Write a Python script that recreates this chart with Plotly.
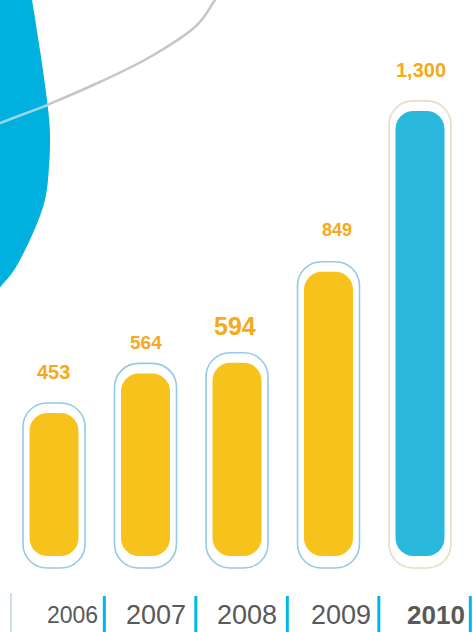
import plotly.graph_objects as go

# ---------------- data ----------------
years = ["2006", "2007", "2008", "2009", "2010"]
values = [453, 564, 594, 849, 1300]
value_labels = ["453", "564", "594", "849", "1,300"]

# ---------------- style ----------------
W, H = 473, 632
gold = "#f8c21d"
sky = "#2ab8dc"
fill_colors = [gold, gold, gold, gold, sky]
outline_colors = ["#95c9e6", "#95c9e6", "#95c9e6", "#95c9e6", "#e8dcc4"]
label_color = "#f7a919"
label_sizes = [20, 19, 25, 18, 20]
label_yshift = [41, 31, 37, 42, 41]
label_xshift = [-1, 0, -2, 8, 1]
year_xshift = [18, 10, 10, 12, 16]
year_fonts = ["Liberation Sans Narrow, Liberation Sans, Arial, sans-serif",
              "Liberation Sans, Arial, sans-serif", "Liberation Sans, Arial, sans-serif",
              "Liberation Sans, Arial, sans-serif", "Liberation Sans, Arial, sans-serif"]
year_bold = [False, False, False, False, True]
year_sizes = [23, 27, 27, 27, 26]

# axis mapping (pixel geometry)
px_per_unit = 0.3566
zero_px = 574.5
y_lo = -(H - zero_px) / px_per_unit
y_hi = zero_px / px_per_unit
cat_px = 91.5
first_px = 54
x_lo = -first_px / cat_px
x_hi = x_lo + W / cat_px


def du(px):
    return px / px_per_unit


def dx(px):
    return px / cat_px


inner_w = dx(49)
outer_w = dx(62)
inner_bottom = du(zero_px - 556)
outer_bottom = du(zero_px - 568)
outer_pad = du(10)

n = len(years)
fig = go.Figure()

# outline capsule
fig.add_trace(go.Bar(
    x=years, y=[v + outer_pad - outer_bottom for v in values], base=[outer_bottom] * n,
    width=[outer_w] * n,
    marker=dict(color="white", line=dict(color=outline_colors, width=1.6), cornerradius=24),
    hoverinfo="skip"))
# inner capsule
fig.add_trace(go.Bar(
    x=years, y=[v - inner_bottom for v in values], base=[inner_bottom] * n,
    width=[inner_w] * n,
    marker=dict(color=fill_colors, line=dict(width=0), cornerradius=18),
    hoverinfo="skip"))

annotations = []
for i in range(n):
    annotations.append(dict(
        x=i, y=values[i], xref="x", yref="y", text="<b>" + value_labels[i] + "</b>",
        showarrow=False, yanchor="middle", xanchor="center",
        xshift=label_xshift[i], yshift=label_yshift[i],
        font=dict(family="Liberation Sans, Arial, sans-serif", size=label_sizes[i],
                  color=label_color)))
    t = years[i]
    if year_bold[i]:
        t = "<b>" + t + "</b>"
    annotations.append(dict(
        x=i, y=1 - 615 / H, xref="x", yref="paper", text=t,
        showarrow=False, yanchor="middle", xanchor="center", xshift=year_xshift[i],
        font=dict(family=year_fonts[i], size=year_sizes[i], color="#595959")))


def P(x, y):
    return x / W, 1 - y / H


def smooth(pts):
    # Catmull-Rom -> cubic bezier, in paper coords
    s = "M %.5f,%.5f" % P(*pts[0])
    for k in range(len(pts) - 1):
        p0 = pts[max(k - 1, 0)]
        p1 = pts[k]
        p2 = pts[k + 1]
        p3 = pts[min(k + 2, len(pts) - 1)]
        c1 = (p1[0] + (p2[0] - p0[0]) / 6, p1[1] + (p2[1] - p0[1]) / 6)
        c2 = (p2[0] - (p3[0] - p1[0]) / 6, p2[1] - (p3[1] - p1[1]) / 6)
        s += " C %.5f,%.5f %.5f,%.5f %.5f,%.5f" % (P(*c1) + P(*c2) + P(*p2))
    return s


blob_pts = [(29, -10), (32, 0), (40, 50), (47, 100), (50, 133), (49, 167), (45, 200),
            (33, 233), (16, 267), (2, 285), (-12, 300)]
blob_path = smooth(blob_pts) + " L %.5f,%.5f L %.5f,%.5f Z" % (P(-20, 302) + P(-20, -12))

arc_out = [(47, 105), (100, 82), (150, 57), (195, 27), (215, 0), (225, -12)]
arc_in = [(-5, 125), (0, 123), (24, 114), (48, 105)]

shapes = [
    dict(type="path", xref="paper", yref="paper", path=blob_path,
         fillcolor="#00b1df", line=dict(width=0), layer="below"),
    dict(type="path", xref="paper", yref="paper", path=smooth(arc_out),
         line=dict(color="#c6c6c6", width=2.5), layer="below"),
    dict(type="path", xref="paper", yref="paper", path=smooth(arc_in),
         line=dict(color="#9ad6ea", width=2.5), layer="below"),
    dict(type="line", xref="paper", yref="paper",
         x0=11 / W, x1=11 / W, y0=1 - 593 / H, y1=0,
         line=dict(color="#cfe0e0", width=2)),
]
for i in range(n):
    shapes.append(dict(type="line", xref="x", yref="paper",
                       x0=i + 0.55, x1=i + 0.55, y0=1 - 596 / H, y1=0,
                       line=dict(color="#00b6ee", width=3)))

fig.update_layout(
    width=W, height=H, barmode="overlay", showlegend=False,
    margin=dict(l=0, r=0, t=0, b=0),
    paper_bgcolor="white", plot_bgcolor="white",
    xaxis=dict(visible=False, range=[x_lo, x_hi], type="category"),
    yaxis=dict(visible=False, range=[y_lo, y_hi]),
    annotations=annotations, shapes=shapes,
)

fig.write_html("out.html", config={"displayModeBar": False},
               post_script="document.body.style.margin='0';")
